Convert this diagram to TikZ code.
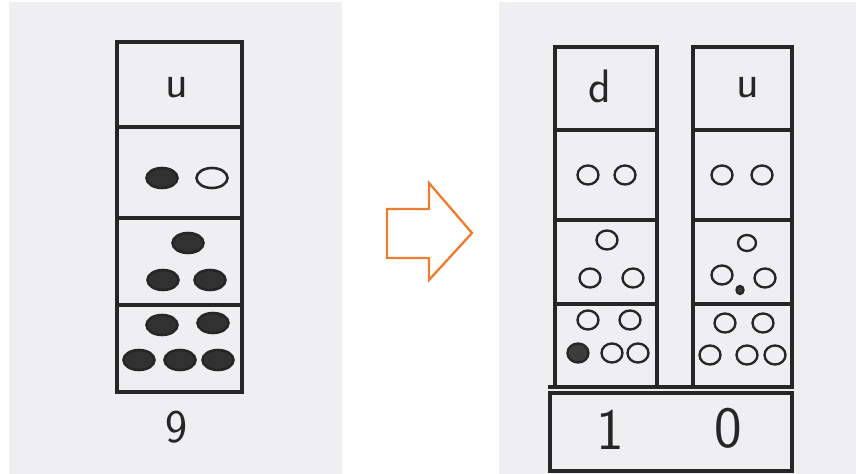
\documentclass[tikz,border=0pt]{standalone}
\usepackage{tikz}
\usetikzlibrary{positioning,shapes.geometric}
\definecolor{ink}{HTML}{262626}
\definecolor{scan}{HTML}{EFEFF2}
\definecolor{arr}{HTML}{ED7D31}

\tikzset{
  cell/.style 2 args={draw=ink, line width=3pt, inner sep=0pt, outer sep=0pt,
    minimum width=#1*0.03cm, minimum height=#2*0.03cm},
  hand/.style={text=ink, font=\sffamily\fontsize{40}{40}\selectfont, inner sep=0pt},
  bighand/.style={hand, font=\sffamily\fontsize{50}{50}\selectfont},
  bead/.style={ellipse, draw=ink, line width=2.2pt, inner sep=0pt,
    minimum width=31*0.03cm, minimum height=20*0.03cm},
  fullbead/.style={bead, fill=ink!95},
  ring/.style={ellipse, draw=ink, line width=2pt, inner sep=0pt,
    minimum width=21*0.03cm, minimum height=19*0.03cm},
  fullring/.style={ring, fill=ink!90}
}

\begin{document}
\begin{tikzpicture}[x=0.03cm, y=-0.03cm]
  \useasboundingbox (0,0) rectangle (856,474);
  \fill[scan] (9,2) rectangle (342,474);
  \fill[scan] (499,2) rectangle (856,474);

  % nine: one column
  \node[cell={125}{85}, anchor=north west] (L1) at (117,42) {};
  \node[cell={125}{91}, below=0pt of L1] (L2) {};
  \node[cell={125}{87}, below=0pt of L2] (L3) {};
  \node[cell={125}{87}, below=0pt of L3] (L4) {};
  \node[hand] (lu) at (177,88) {u};
  \node[hand] (nine) at (177,427) {9};

  \node[fullbead] (a1) at (162,178) {};
  \node[bead] (a2) at (212,178) {};
  \node[fullbead] (b1) at (188,243) {};
  \node[fullbead] (b2) at (163,280) {};
  \node[fullbead] (b3) at (210,280) {};
  \node[fullbead] (c1) at (162,325) {};
  \node[fullbead] (c2) at (213,323) {};
  \node[fullbead] (c3) at (139,360) {};
  \node[fullbead] (c4) at (180,360) {};
  \node[fullbead] (c5) at (218,360) {};

  % block arrow
  \draw[arr, line width=2pt, line join=miter]
    (387,209) -- (429,209) -- (429,183) -- (472,233) -- (429,280) -- (429,258) -- (387,258) -- cycle;

  % ten: two columns on a base
  \node[cell={102}{83}, anchor=north west] (D1) at (555,47) {};
  \node[cell={102}{90}, below=0pt of D1] (D2) {};
  \node[cell={102}{84}, below=0pt of D2] (D3) {};
  \node[cell={102}{83}, below=0pt of D3] (D4) {};
  \node[cell={99}{83}, anchor=north west] (U1) at (693,47) {};
  \node[cell={99}{90}, below=0pt of U1] (U2) {};
  \node[cell={99}{84}, below=0pt of U2] (U3) {};
  \node[cell={99}{83}, below=0pt of U3] (U4) {};
  \node[cell={242}{78}, anchor=north west] (B) at (550,393) {};
  \draw[ink, line width=3pt] (B.north west) ++(-2,-6) -- ++(244,0);

  \node[hand] (rd) at (600,86) {d};
  \node[hand] (ru) at (748,88) {u};
  \node[bighand] (one) at (610,430) {1};
  \node[bighand] (zero) at (728,428) {0};

  \node[ring] (d1) at (588,175) {};
  \node[ring] (d2) at (625,175) {};
  \node[ring] (d3) at (607,240) {};
  \node[ring] (d4) at (590,278) {};
  \node[ring] (d5) at (633,278) {};
  \node[ring] (d6) at (588,320) {};
  \node[ring] (d7) at (630,320) {};
  \node[fullring] (d8) at (578,353) {};
  \node[ring] (d9) at (612,353) {};
  \node[ring] (d10) at (638,353) {};

  \node[ring] (u1) at (722,175) {};
  \node[ring] (u2) at (762,175) {};
  \node[ring, minimum width=18*0.03cm, minimum height=16*0.03cm] (u3) at (747,243) {};
  \node[ring] (u4) at (722,275) {};
  \node[fullring, minimum width=7*0.03cm, minimum height=8*0.03cm] (u5) at (740,290) {};
  \node[ring] (u6) at (765,278) {};
  \node[ring] (u7) at (725,323) {};
  \node[ring] (u8) at (763,323) {};
  \node[ring] (u9) at (710,355) {};
  \node[ring] (u10) at (747,355) {};
  \node[ring] (u11) at (775,355) {};
\end{tikzpicture}
\end{document}
